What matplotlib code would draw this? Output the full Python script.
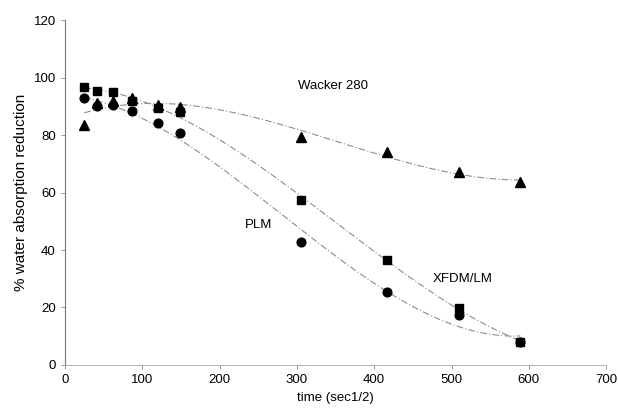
import numpy as np
import matplotlib.pyplot as plt

plt.rcParams['font.family'] = ['Liberation Sans', 'DejaVu Sans']

time = [25, 41, 62, 87, 120, 149, 305, 417, 510, 589]
wacker = [83.5, 91, 92, 93, 90.5, 89.7, 79.3, 74, 67, 63.7]
xfdm = [96.7, 95.5, 95, 92, 89.4, 88, 57.4, 36.5, 19.8, 8.0]
plm = [92.9, 90, 90.4, 88.3, 84.2, 80.7, 42.8, 25.4, 17.4, 8.0]

fig, ax = plt.subplots(figsize=(6.18, 4.11), dpi=100)
fig.subplots_adjust(left=0.105, right=0.981, bottom=0.112, top=0.951)

# trend lines (cubic fit, like the spreadsheet trendlines)
xs = np.linspace(min(time), max(time), 200)
for y in (wacker, xfdm, plm):
    p = np.polyfit(time, y, 3)
    ax.plot(xs, np.polyval(p, xs), color='#8c8c8c', lw=0.8, ls=(0, (6, 2, 1, 2)))

ax.plot(time, wacker, '^', color='black', ms=7.5, ls='none')
ax.plot(time, xfdm, 's', color='black', ms=6.3, ls='none')
ax.plot(time, plm, 'o', color='black', ms=6.3, ls='none')

ax.text(347, 97, 'Wacker 280', fontsize=9.5, ha='center', va='center')
ax.text(250, 48.7, 'PLM', fontsize=9.5, ha='center', va='center')
ax.text(514, 30, 'XFDM/LM', fontsize=9.5, ha='center', va='center')

ax.set_xlim(0, 700)
ax.set_ylim(0, 120)
ax.set_xticks(range(0, 701, 100))
ax.set_yticks(range(0, 121, 20))
ax.tick_params(labelsize=9.5, length=3, width=0.6, color='#888888')
ax.spines['top'].set_visible(False)
ax.spines['right'].set_visible(False)
ax.spines['left'].set_color('#777777')
ax.spines['bottom'].set_color('#aaaaaa')
ax.spines['left'].set_linewidth(0.8)
ax.spines['bottom'].set_linewidth(0.6)

ax.set_xlabel('time (sec1/2)', fontsize=9.5)
ax.set_ylabel('% water absorption reduction', fontsize=11)

plt.savefig('out.png')
